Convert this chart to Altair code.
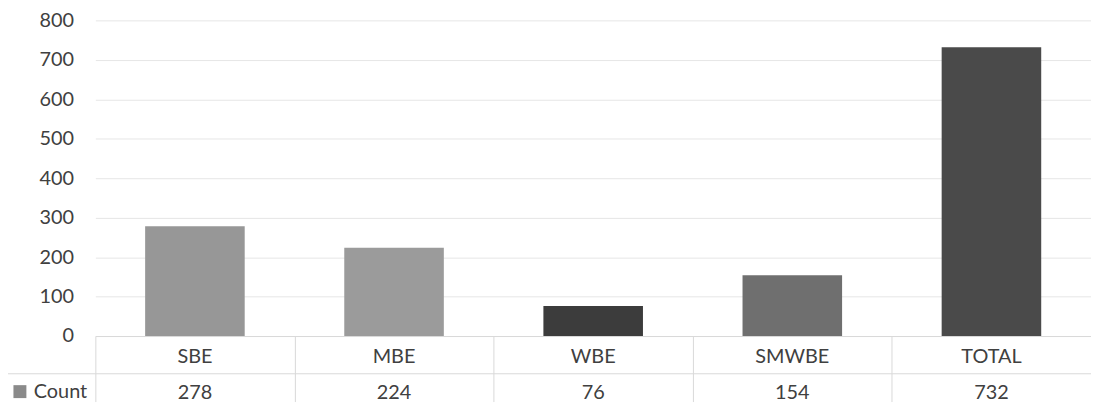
import altair as alt
import pandas as pd

cats = ["SBE", "MBE", "WBE", "SMWBE", "TOTAL"]
counts = [278, 224, 76, 154, 732]
series_name = "Count"
bar_colors = ["#979797", "#9b9b9b", "#3c3c3c", "#6f6f6f", "#4a4a4a"]
y_ticks = [0, 100, 200, 300, 400, 500, 600, 700, 800]

df = pd.DataFrame({"cat": cats, "count": counts, "series": [series_name] * len(cats)})
one = pd.DataFrame({"k": [0]})

W, H = 1003, 318
FONT = "Lato"
TXT = "#404040"
LINE = "#d9d9d9"

x_enc = alt.X(
    "cat:N", sort=cats,
    scale=alt.Scale(paddingInner=0, paddingOuter=0),
    axis=alt.Axis(title=None, labels=False, tickBand="extent", tickSize=66,
                  tickColor=LINE, domainColor=LINE, grid=False),
)
y_enc = alt.Y(
    "count:Q", scale=alt.Scale(domain=[0, 800]),
    axis=alt.Axis(title=None, values=y_ticks, grid=True, gridColor="#e6e6e6",
                  domain=False, ticks=False, labelPadding=22, labelFontSize=20,
                  labelColor=TXT, labelFont=FONT),
)

base = alt.Chart(df)

bars = base.mark_bar(width=alt.RelativeBandSize(0.5)).encode(
    x=x_enc, y=y_enc,
    color=alt.Color("cat:N", scale=alt.Scale(domain=cats, range=bar_colors), legend=None),
)

cat_row = base.mark_text(fontSize=20, font=FONT, color=TXT, baseline="middle").encode(
    x=x_enc, y=alt.value(H + 21), text="cat:N"
)
count_row = base.mark_text(fontSize=20, font=FONT, color=TXT, baseline="middle").encode(
    x=x_enc, y=alt.value(H + 57), text="count:Q"
)

hline = alt.Chart(one).mark_rule(color=LINE, strokeWidth=1).encode(
    x=alt.value(-93), x2=alt.value(W), y=alt.value(H + 38)
)
vline = alt.Chart(one).mark_rule(color=LINE, strokeWidth=1).encode(
    x=alt.value(-93), y=alt.value(H + 38), y2=alt.value(H + 90)
)

legend_layer = base.mark_square(opacity=0).encode(
    x=x_enc, y=y_enc,
    color=alt.Color("series:N", scale=alt.Scale(range=["#8a8a8a"]),
                    legend=alt.Legend(title=None, orient="none", legendX=-86, legendY=H + 46,
                                      labelFontSize=20, labelFont=FONT, labelColor=TXT,
                                      symbolType="square", symbolSize=170, symbolOpacity=1,
                                      symbolStrokeWidth=0, padding=0)),
)

chart = alt.layer(bars, cat_row, count_row, hline, vline, legend_layer).resolve_scale(
    color="independent"
).properties(
    width=W, height=H,
    autosize=alt.AutoSizeParams(type="none"),
    padding={"left": 88, "top": 11, "right": 0, "bottom": 66},
).configure_view(stroke=None)

chart.save("out.html", embed_options={"renderer": "svg", "actions": False})
